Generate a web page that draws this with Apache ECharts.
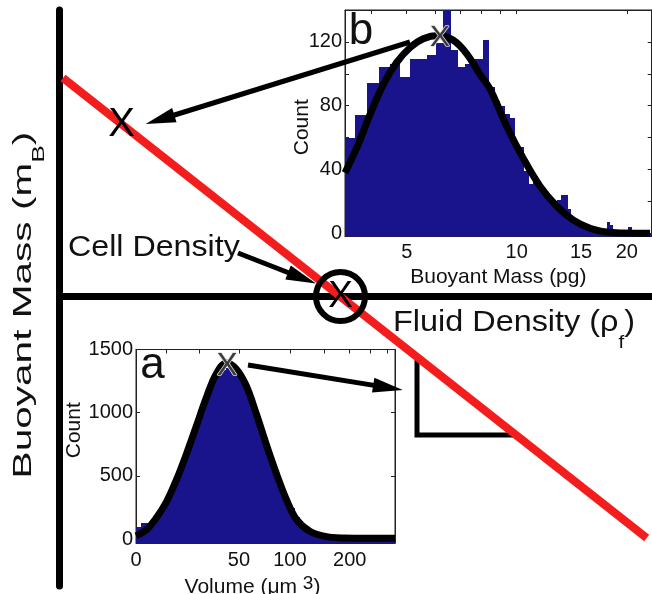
<!DOCTYPE html>
<html><head><meta charset="utf-8">
<script src="https://cdn.jsdelivr.net/npm/echarts@6/dist/echarts.min.js"></script>
<style>html,body{margin:0;padding:0;background:#fff}#c{width:652px;height:594px}</style>
</head><body><div id="c"></div>
<script>
// ===== Inset a: volume histogram =====
const volumeRange = [0, 324];
const volumeTicks = [0, 50, 100, 200];
const volumeMinorTicks = [10, 25, 50, 100, 150, 200, 250, 300];
const volumeCountRange = [-30, 1500];
const volumeCountTicks = [0, 500, 1000, 1500];
const volumeHistCounts = [95,125,130,160,215,265,330,420,510,610,715,820,935,1050,1160,1260,1330,1340,1350,1345,1320,1260,1180,1075,960,830,710,600,505,410,320,245,175,125,90,60,40,27,18,12,8,5,3,2,1,1,1,0,0,0,0,0];
const volumeFitV = [0,3,6.3,10,14,18.4,23.2,28.6,34.4,40.9,48,55.8,64.4,73.9,84.3,95.7,108.4,127.1,154.3,185.4,248.8,324];
const volumeFitCount = [26,71,165,291,465,669,890,1118,1307,1394,1346,1213,992,748,520,315,157,63,20,10,8,8];
const volumePeak = [41.4, 1363];

// ===== Inset b: buoyant mass histogram (bins of 0.3 pg from 3.3 pg) =====
const massRange = [3.39, 23.4];
const massTicks = [5, 10, 15, 20];
const massMinorTicks = [4, 5, 6, 7, 8, 9, 10, 20];
const massCountRange = [-2, 140];
const massCountTicks = [0, 20, 40, 60, 80, 100, 120, 140];
const massCountLabels = [0, 40, 80, 120];
const massBinStart = 3.3;
const massBinWidth = 0.3;
const massHistCounts = [60,74,94,104,106,98,109,109,112,119,140,115,104,106,109,109,121,92,83,80,75,72,54,54,39,31,36,28,25,24,20,18,21,24,24,15,9.4,7.3,7.3,5.5,5.2,4,3.1,3.1,2.5,3,1.5,2,7.3,5,1,1,1,0,1,1,3.8,3.8,0,1,0,0,1,0,0,0,0];
const massFitM = [3.39,3.65,3.97,4.32,4.69,5.11,5.55,6.10,6.71,7.30,7.94,8.45,9.39,10.42,11.58,12.87,14.29,15.87,17.63,19.58,23.16];
const massFitCount = [38,53.5,74.5,93.5,107,116.5,122,124,121,112.5,99.5,90.5,67,47,29.5,17,8.3,3.2,0.8,0.2,0];
const massPeak = [6.17, 122.5];

// ===== Main schematic (fluid density vs buoyant mass, arbitrary units) =====
const mainXRange = [0, 5.925];
const mainYRange = [-2.895, 2.865];
const densityLine = [[0.035, 2.185], [5.872, -2.415]];
const cellPoint = [0.622, 1.715];
const cellDensityPoint = [2.81, 0];
const slopeTriangle = [[3.575, -0.604], [3.575, -1.385], [4.566, -1.385]];
const arrows = [
  [[3.505, 2.545], [1.005, 1.77]],
  [[1.785, 0.435], [2.425, 0.185]],
  [[1.885, -0.685], [3.285, -0.911]]
];

const FONT = 'Liberation Sans, Arial, Helvetica, sans-serif';
const INK = '#111';
const NAVY = '#1a148c';
const tA = v => Math.log10(v + 30);
const tB = v => Math.log10(v);

const aMin = tA(volumeRange[0]), aMax = tA(volumeRange[1]);
const aBinW = (aMax - aMin) / volumeHistCounts.length;
const volumeHist = volumeHistCounts.map((c, i) => [aMin + i * aBinW, aMin + (i + 1) * aBinW, c]);
const bMin = tB(massRange[0]), bMax = tB(massRange[1]);
const massHist = massHistCounts.map((c, i) => [tB(massBinStart + i * massBinWidth), tB(massBinStart + (i + 1) * massBinWidth), c]);

function histItem(yMin, color) {
  return function (params, api) {
    const p0 = api.coord([api.value(0), api.value(2)]);
    const p1 = api.coord([api.value(1), yMin]);
    const x0 = Math.round(p0[0]), x1 = Math.round(p1[0]);
    const y0 = Math.round(p0[1]), y1 = Math.round(p1[1]);
    return { type: 'rect', shape: { x: x0, y: y0, width: Math.max(x1 - x0, 0), height: Math.max(y1 - y0, 0) },
      style: { fill: color, stroke: null, lineWidth: 0 } };
  };
}

const tickLabel = { fontSize: 20, fontFamily: FONT, color: INK };
const thinLine = { show: true, onZero: false, lineStyle: { color: '#222', width: 1 } };
const noSplit = { show: false };
const xLabel = (fs, col) => ({ show: true, position: 'inside', formatter: 'X', fontSize: fs, fontFamily: FONT, color: col, opacity: 1 });

const chart = echarts.init(document.getElementById('c'));
chart.setOption({
  animation: false,
  backgroundColor: '#fff',
  grid: [
    { left: 59.5, right: 0, top: 10, bottom: 8, show: false, outerBoundsMode: 'none' },
    { left: 345, top: 10, width: 306.7, height: 226.5, show: true, backgroundColor: '#fff', borderColor: '#222', borderWidth: 1, outerBoundsMode: 'none' },
    { left: 136, top: 349.5, width: 259, height: 193.5, show: true, backgroundColor: '#fff', borderColor: '#222', borderWidth: 1, outerBoundsMode: 'none' }
  ],
  xAxis: [
    { gridIndex: 0, type: 'value', min: mainXRange[0], max: mainXRange[1],
      axisLine: { show: true, onZero: true, lineStyle: { color: '#000', width: 7 } },
      axisTick: { show: false }, axisLabel: { show: false }, splitLine: noSplit },
    { gridIndex: 1, type: 'value', min: bMin, max: bMax, position: 'bottom',
      axisLine: thinLine, splitLine: noSplit,
      axisTick: { show: true, inside: true, length: 4, customValues: massTicks.map(tB), lineStyle: { color: '#222' } },
      axisLabel: { ...tickLabel, margin: 6, customValues: massTicks.map(tB), formatter: v => String(Math.round(Math.pow(10, v))) },
      name: 'Buoyant Mass (pg)', nameLocation: 'middle', nameGap: 30, nameMoveOverlap: false,
      nameTextStyle: { fontSize: 21, fontFamily: FONT, color: INK } },
    { gridIndex: 1, type: 'value', min: bMin, max: bMax, position: 'top',
      axisLine: thinLine, splitLine: noSplit, axisLabel: { show: false },
      axisTick: { show: true, inside: true, length: 4, customValues: massMinorTicks.map(tB), lineStyle: { color: '#222' } } },
    { gridIndex: 2, type: 'value', min: aMin, max: aMax, position: 'bottom',
      axisLine: thinLine, splitLine: noSplit,
      axisTick: { show: true, inside: true, length: 4, customValues: volumeTicks.map(tA), lineStyle: { color: '#222' } },
      axisLabel: { ...tickLabel, margin: 7, customValues: volumeTicks.map(tA), formatter: v => String(Math.round(Math.pow(10, v) - 30)) },
      name: 'Volume (μm {sup|3})', nameLocation: 'middle', nameGap: 31, nameMoveOverlap: false,
      nameTextStyle: { fontSize: 21, fontFamily: FONT, color: INK, padding: [0, 26, 0, 0],
        rich: { sup: { fontSize: 19, fontFamily: FONT, color: INK, verticalAlign: 'top', padding: [0, 0, 8, 0] } } } },
    { gridIndex: 2, type: 'value', min: aMin, max: aMax, position: 'top',
      axisLine: thinLine, splitLine: noSplit, axisLabel: { show: false },
      axisTick: { show: true, inside: true, length: 4, customValues: volumeMinorTicks.map(tA), lineStyle: { color: '#222' } } }
  ],
  yAxis: [
    { gridIndex: 0, type: 'value', min: mainYRange[0], max: mainYRange[1],
      axisLine: { show: true, onZero: true, lineStyle: { color: '#000', width: 7 } },
      axisTick: { show: false }, axisLabel: { show: false }, splitLine: noSplit },
    { gridIndex: 1, type: 'value', min: massCountRange[0], max: massCountRange[1], position: 'left',
      axisLine: thinLine, splitLine: noSplit,
      axisTick: { show: true, inside: true, length: 4, customValues: massCountTicks, lineStyle: { color: '#222' } },
      axisLabel: { ...tickLabel, margin: 3, customValues: massCountLabels, formatter: v => String(v) },
      name: 'Count', nameLocation: 'middle', nameGap: 32, nameMoveOverlap: false,
      nameTextStyle: { fontSize: 21, fontFamily: FONT, color: INK, padding: [0, 8, 0, 0] } },
    { gridIndex: 1, type: 'value', min: massCountRange[0], max: massCountRange[1], position: 'right',
      axisLine: thinLine, splitLine: noSplit, axisLabel: { show: false },
      axisTick: { show: true, inside: true, length: 4, customValues: massCountTicks, lineStyle: { color: '#222' } } },
    { gridIndex: 2, type: 'value', min: volumeCountRange[0], max: volumeCountRange[1], position: 'left',
      axisLine: thinLine, splitLine: noSplit,
      axisTick: { show: true, inside: true, length: 4, customValues: volumeCountTicks, lineStyle: { color: '#222' } },
      axisLabel: { ...tickLabel, margin: 3, customValues: volumeCountTicks, formatter: v => String(v) },
      name: 'Count', nameLocation: 'middle', nameGap: 51, nameMoveOverlap: false,
      nameTextStyle: { fontSize: 21, fontFamily: FONT, color: INK, padding: [0, 0, 0, 32] } },
    { gridIndex: 2, type: 'value', min: volumeCountRange[0], max: volumeCountRange[1], position: 'right',
      axisLine: thinLine, splitLine: noSplit, axisLabel: { show: false },
      axisTick: { show: true, inside: true, length: 4, customValues: volumeCountTicks, lineStyle: { color: '#222' } } }
  ],
  series: [
    // main schematic
    { type: 'line', xAxisIndex: 0, yAxisIndex: 0, data: densityLine, symbol: 'none', silent: true,
      lineStyle: { color: '#f41d1d', width: 8, cap: 'butt' }, z: 3 },
    { type: 'line', xAxisIndex: 0, yAxisIndex: 0, data: slopeTriangle, symbol: 'none', silent: true,
      lineStyle: { color: '#000', width: 5, cap: 'butt', join: 'miter' }, z: 2 },
    { type: 'lines', coordinateSystem: 'cartesian2d', xAxisIndex: 0, yAxisIndex: 0, silent: true, z: 8,
      symbol: ['none', 'path://M0 0 L7 30 L-7 30 Z'],
      symbolSize: [1, [15, 30]],
      lineStyle: { color: '#000', width: 5, opacity: 1, curveness: 0 },
      data: arrows.map(a => ({ coords: a })) },
    { type: 'scatter', xAxisIndex: 0, yAxisIndex: 0, data: [cellPoint], symbol: 'circle', symbolSize: 1, silent: true, z: 9,
      itemStyle: { color: 'rgba(0,0,0,0)', opacity: 1 },
      label: xLabel(40, '#000') },
    { type: 'scatter', xAxisIndex: 0, yAxisIndex: 0, data: [cellDensityPoint], symbol: 'circle', symbolSize: 49, silent: true, z: 9,
      itemStyle: { color: 'rgba(0,0,0,0)', borderColor: '#000', borderWidth: 6, opacity: 1 },
      label: xLabel(37, '#000') },
    // inset b
    { type: 'custom', xAxisIndex: 1, yAxisIndex: 1, data: massHist, encode: { x: [0, 1], y: 2 }, clip: true, silent: true,
      renderItem: histItem(massCountRange[0], NAVY), z: 2 },
    { type: 'line', xAxisIndex: 1, yAxisIndex: 1, data: massFitM.map((m, i) => [tB(m), massFitCount[i]]),
      symbol: 'none', smooth: 0.35, clip: true, silent: true, lineStyle: { color: '#000', width: 7 }, z: 3 },
    { type: 'scatter', xAxisIndex: 1, yAxisIndex: 1, data: [[tB(massPeak[0]), massPeak[1]]], symbolSize: 1, silent: true, z: 9,
      itemStyle: { color: 'rgba(0,0,0,0)', opacity: 1 },
      label: { ...xLabel(30, '#3a3a3a'), textBorderColor: '#d9d9d9', textBorderWidth: 1.5 } },
    // inset a
    { type: 'custom', xAxisIndex: 3, yAxisIndex: 3, data: volumeHist, encode: { x: [0, 1], y: 2 }, clip: true, silent: true,
      renderItem: histItem(volumeCountRange[0], NAVY), z: 2 },
    { type: 'line', xAxisIndex: 3, yAxisIndex: 3, data: volumeFitV.map((v, i) => [tA(v), volumeFitCount[i]]),
      symbol: 'none', smooth: 0.35, clip: true, silent: true, lineStyle: { color: '#000', width: 7 }, z: 3 },
    { type: 'scatter', xAxisIndex: 3, yAxisIndex: 3, data: [[tA(volumePeak[0]), volumePeak[1]]], symbolSize: 1, silent: true, z: 9,
      itemStyle: { color: 'rgba(0,0,0,0)', opacity: 1 },
      label: { ...xLabel(31, '#3a3a3a'), textBorderColor: '#d9d9d9', textBorderWidth: 1.5 } }
  ],
  graphic: [
    { type: 'text', x: 68, y: 248, scaleX: 1.11, z: 20, silent: true,
      style: { text: 'Cell Density', fontSize: 29, fontFamily: FONT, fill: INK, align: 'left', verticalAlign: 'middle' } },
    { type: 'text', x: 393, y: 322.5, scaleX: 1.08, z: 20, silent: true,
      style: { text: '{m|Fluid Density (ρ}{s|f}{m|)}', fontSize: 30, fontFamily: FONT, fill: INK, align: 'left', verticalAlign: 'middle',
        rich: {
          m: { fontSize: 30, fontFamily: FONT, fill: INK, lineHeight: 30, verticalAlign: 'top' },
          s: { fontSize: 19, fontFamily: FONT, fill: INK, lineHeight: 19, verticalAlign: 'top', padding: [26, 0, 0, 0] }
        } } },
    { type: 'text', x: 23.5, y: 305, rotation: Math.PI / 2, scaleX: 1.56, z: 20, silent: true,
      style: { text: '{m|Buoyant Mass (m}{s|B}{m|)}', fontSize: 26, fontFamily: FONT, fill: INK, align: 'center', verticalAlign: 'middle',
        rich: {
          m: { fontSize: 26, fontFamily: FONT, fill: INK, lineHeight: 26, verticalAlign: 'top' },
          s: { fontSize: 17, fontFamily: FONT, fill: INK, lineHeight: 17, verticalAlign: 'top', padding: [20.5, 0, 0, 0] }
        } } },
    { type: 'text', x: 361, y: 32, z: 20, silent: true,
      style: { text: 'b', fontSize: 44, fontFamily: FONT, fill: INK, align: 'center', verticalAlign: 'middle' } },
    { type: 'text', x: 152.5, y: 365.5, z: 20, silent: true,
      style: { text: 'a', fontSize: 44, fontFamily: FONT, fill: INK, align: 'center', verticalAlign: 'middle' } }
  ]
});
</script>
</body></html>
